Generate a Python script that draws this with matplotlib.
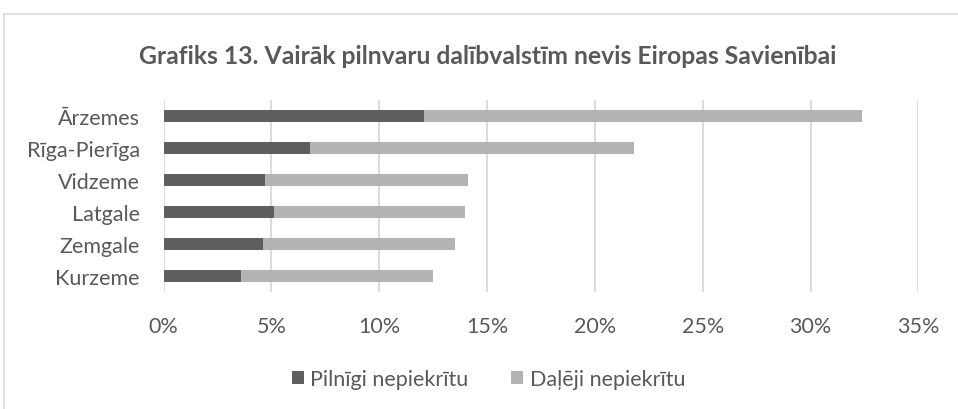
import matplotlib
matplotlib.use('Agg')
import matplotlib.pyplot as plt
from matplotlib.patches import Rectangle
from matplotlib.ticker import FuncFormatter

plt.rcParams['font.family'] = ['Lato', 'DejaVu Sans']

# dati (procenti), no apakšas uz augšu
regions = ['Kurzeme', 'Zemgale', 'Latgale', 'Vidzeme', 'Rīga-Pierīga', 'Ārzemes']
fully_disagree = [3.6, 4.6, 5.1, 4.7, 6.8, 12.1]
partly_disagree = [8.9, 8.9, 8.9, 9.4, 15.0, 20.3]
series_names = ['Pilnīgi nepiekrītu', 'Daļēji nepiekrītu']
title = 'Grafiks 13. Vairāk pilnvaru dalībvalstīm nevis Eiropas Savienībai'

DARK = '#5f5f5f'
LIGHT = '#b3b3b3'
TEXT = '#595959'
GRID = '#d9d9d9'

fig = plt.figure(figsize=(9.58, 4.10), dpi=100)
ax = fig.add_axes([0.1707, 0.2854, 0.7879, 0.4683])

y = range(len(regions))
ax.barh(y, fully_disagree, height=0.4, color=DARK, label=series_names[0], zorder=3)
ax.barh(y, partly_disagree, left=fully_disagree, height=0.4, color=LIGHT,
        label=series_names[1], zorder=3)

ax.set_xlim(0, 35)
ax.set_ylim(-0.5, len(regions) - 0.5)
ax.set_xticks(range(0, 36, 5))
ax.xaxis.set_major_formatter(FuncFormatter(lambda v, _: f'{v:.0f}%'))
ax.set_yticks(list(y))
ax.set_yticklabels(regions)
ax.tick_params(axis='both', length=0, labelsize=15.5, colors=TEXT)
ax.tick_params(axis='x', pad=17)
ax.tick_params(axis='y', pad=17)
ax.grid(axis='x', color=GRID, linewidth=1.3, zorder=0)
ax.set_axisbelow(True)
for s in ax.spines.values():
    s.set_visible(False)

fig.text(0.509, 0.861, title, ha='center', va='center', fontsize=17.8,
         fontweight='bold', color=TEXT)

fig.legend(loc='center', bbox_to_anchor=(0.51, 0.073), ncol=2, frameon=False,
           fontsize=15.5, labelcolor=TEXT, handlelength=0.55, handleheight=0.55,
           handletextpad=0.3, columnspacing=2.0)

# rāmis ap diagrammu
fig.patches.append(Rectangle((0.0042, -0.1), 1.2, 0.9634 + 0.1, transform=fig.transFigure,
                             fill=False, edgecolor=GRID, linewidth=1.2))

fig.savefig('out.png', dpi=100, facecolor='white')
